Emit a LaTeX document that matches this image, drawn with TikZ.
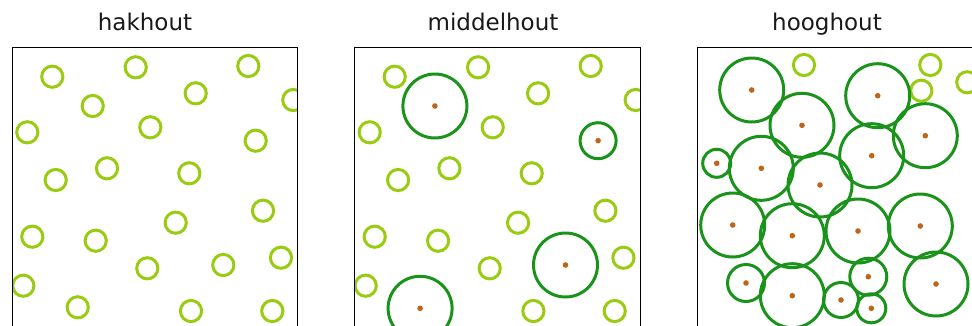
\documentclass[tikz,border=0pt]{standalone}
\usepackage{fontspec}
\usepackage{tikz}
\usetikzlibrary{positioning}
\newfontfamily\titlefont{DejaVu Sans}
\definecolor{youngtree}{HTML}{99CC11}
\definecolor{oldtree}{HTML}{1A931A}
\definecolor{trunk}{HTML}{BF6418}

\begin{document}
\begin{tikzpicture}[x=1pt, y=-1pt,
  plot/.style={line width=1pt, black},
  title/.style={anchor=base, font=\titlefont\fontsize{23}{26}\selectfont, text=black!90},
  sapling/.style={draw=youngtree, line width=3pt},
  crown/.style={draw=oldtree, line width=3pt},
  stem/.style={fill=trunk, draw=none}
]
  \clip (0,0) rectangle (972,325);

  \node[title] (t1) at (145,30.7) {hakhout};
  \node[title] (t2) at (493,30.7) {middelhout};
  \node[title] (t3) at (827,30.7) {hooghout};

  % hakhout
  \begin{scope}[xshift=12.3pt]
    \begin{scope}
      \clip (0,47.3) rectangle (285.5,330);
      \foreach \x/\y in {40/76.7, 123.4/67.3, 236/66, 183.4/93.3, 281/100, 80.4/106,
        15/132.3, 138/127.3, 243.4/140.7, 43.4/180, 94.7/168.3, 177/173.3,
        250.7/210.7, 163.4/222.7, 20/236.7, 83.4/240.7, 135/268.3, 211/265,
        268.7/257.7, 11/285.7, 65.4/307.3, 178.7/311, 260/311}
        \draw[sapling] (\x,\y) circle[radius=10.6];
    \end{scope}
    \draw[plot] (0,330) -- (0,47.3) -- (285.5,47.3) -- (285.5,330);
  \end{scope}

  % middelhout
  \begin{scope}[xshift=354.7pt]
    \begin{scope}
      \clip (0,47.3) rectangle (285.5,330);
      \foreach \x/\y in {40/76.7, 123.4/67.3, 236/66, 183.4/93.3, 281/100,
        15/132.3, 138/127.3, 43.4/180, 94.7/168.3, 177/173.3,
        250.7/210.7, 163.4/222.7, 20/236.7, 83.4/240.7, 135/268.3,
        268.7/257.7, 11/285.7, 178.7/311, 260/311}
        \draw[sapling] (\x,\y) circle[radius=10.6];
      \foreach \x/\y/\r in {80.2/106/32, 243.4/140.7/18, 210.8/265/32, 65.4/308.3/32}{
        \draw[crown] (\x,\y) circle[radius=\r];
        \fill[stem] (\x,\y) circle[radius=2.8];
      }
    \end{scope}
    \draw[plot] (0,330) -- (0,47.3) -- (285.5,47.3) -- (285.5,330);
  \end{scope}

  % hooghout
  \begin{scope}[xshift=697.3pt]
    \begin{scope}
      \clip (0,47.3) rectangle (285.5,330);
      \foreach \x/\y in {106.7/65, 233/65, 224/90.7, 270/82.3}
        \draw[sapling] (\x,\y) circle[radius=10.6];
      \foreach \x/\y/\r in {54.4/90/32, 104.7/125.3/32, 180.4/95.7/32, 228/135.7/32,
        174.4/155.7/32, 19.4/163.3/14, 64/168.3/32, 122.7/185/32,
        35.4/225/32, 95/235.7/32, 160.7/231/32, 223/226/32,
        48.7/283/18.5, 95/295.7/32, 143.7/300/17.5, 171/276.7/18.5,
        174/308.3/14.5, 238.7/284/32}{
        \draw[crown] (\x,\y) circle[radius=\r];
        \fill[stem] (\x,\y) circle[radius=2.8];
      }
    \end{scope}
    \draw[plot] (0,330) -- (0,47.3) -- (285.5,47.3) -- (285.5,330);
  \end{scope}
\end{tikzpicture}
\end{document}
